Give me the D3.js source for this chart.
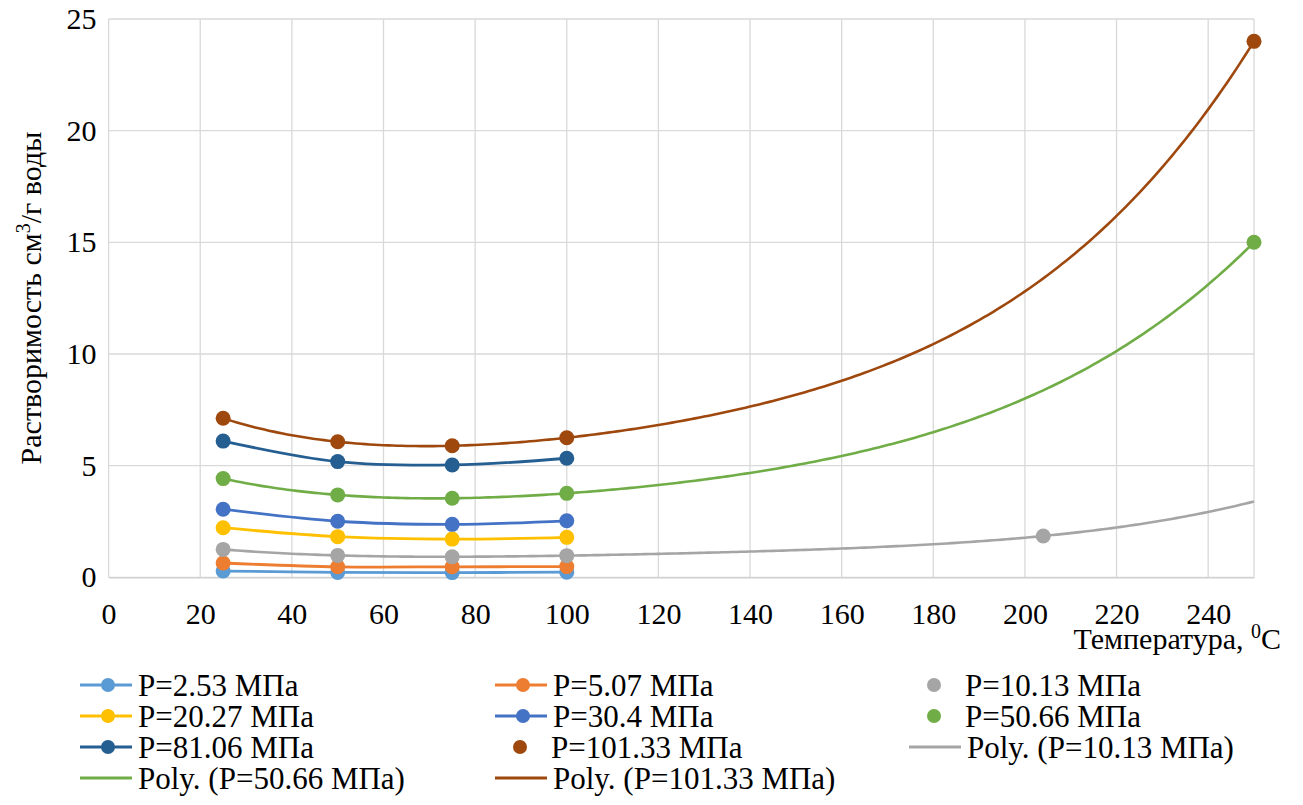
<!DOCTYPE html>
<html>
<head>
<meta charset="utf-8">
<script src="https://cdn.jsdelivr.net/npm/d3@7"></script>
<style>
  body { margin: 0; background: #fff; }
  svg text { font-family: "Liberation Serif", "Times New Roman", serif; fill: #000; }
</style>
</head>
<body>
<svg id="chart" width="1303" height="805"></svg>
<script>
const serif = '"Liberation Serif", "Times New Roman", serif';

// temperatures, 0C
const tempLow = [25, 50, 75, 100];
const temp1013 = [25, 50, 75, 100, 204];
const tempHigh = [25, 50, 75, 100, 250];

// solubility, cm3 per g of water
const p253 = [0.28, 0.22, 0.21, 0.23];
const p507 = [0.64, 0.47, 0.47, 0.48];
const p1013 = [1.25, 0.98, 0.92, 0.97, 1.85];
const p2027 = [2.22, 1.82, 1.71, 1.79];
const p304 = [3.05, 2.51, 2.37, 2.53];
const p5066 = [4.42, 3.69, 3.54, 3.76, 15.0];
const p8106 = [6.1, 5.18, 5.03, 5.33];
const p10133 = [7.12, 6.07, 5.89, 6.25, 24.0];

const xTicks = [0, 20, 40, 60, 80, 100, 120, 140, 160, 180, 200, 220, 240];
const yTicks = [0, 5, 10, 15, 20, 25];

const series = [
    { name: 'P=2.53 МПа', x: tempLow, y: p253, color: '#5B9BD5', line: true },
    { name: 'P=5.07 МПа', x: tempLow, y: p507, color: '#ED7D31', line: true },
    { name: 'P=10.13 МПа', x: temp1013, y: p1013, color: '#A5A5A5', line: false, trend: true },
    { name: 'P=20.27 МПа', x: tempLow, y: p2027, color: '#FFC000', line: true },
    { name: 'P=30.4 МПа', x: tempLow, y: p304, color: '#4472C4', line: true },
    { name: 'P=50.66 МПа', x: tempHigh, y: p5066, color: '#70AD47', line: false, trend: true },
    { name: 'P=81.06 МПа', x: tempLow, y: p8106, color: '#255E91', line: true },
    { name: 'P=101.33 МПа', x: tempHigh, y: p10133, color: '#9E480E', line: false, trend: true }
];

const svg = d3.select('#chart');

const x = d3.scaleLinear().domain([0, 250]).range([108.6, 1254]);
const y = d3.scaleLinear().domain([0, 25]).range([577.3, 19]);

// least squares polynomial, like Excel "Poly." trendline
function polyFit(xs, ys, order) {
    const n = order + 1;
    const A = [];
    for (let i = 0; i < n; i++) {
        A.push(new Array(n + 1).fill(0));
    }
    for (let k = 0; k < xs.length; k++) {
        const t = xs[k] / 100;
        for (let i = 0; i < n; i++) {
            for (let j = 0; j < n; j++) {
                A[i][j] += Math.pow(t, i + j);
            }
            A[i][n] += ys[k] * Math.pow(t, i);
        }
    }
    for (let i = 0; i < n; i++) {
        let p = i;
        for (let r = i + 1; r < n; r++) if (Math.abs(A[r][i]) > Math.abs(A[p][i])) p = r;
        [A[i], A[p]] = [A[p], A[i]];
        for (let r = 0; r < n; r++) {
            if (r === i) continue;
            const f = A[r][i] / A[i][i];
            for (let c = i; c <= n; c++) A[r][c] -= f * A[i][c];
        }
    }
    const coef = A.map((row, i) => row[n] / row[i]);
    return v => coef.reduce((s, c, i) => s + c * Math.pow(v / 100, i), 0);
}

// grid
svg.append('g')
    .selectAll('line')
    .data(xTicks.concat([250]))
    .enter()
    .append('line')
        .attr('x1', d => x(d)).attr('x2', d => x(d))
        .attr('y1', y(25)).attr('y2', y(0))
        .attr('stroke', '#d9d9d9')
        .attr('stroke-width', 1.3);

svg.append('g')
    .selectAll('line')
    .data(yTicks)
    .enter()
    .append('line')
        .attr('x1', x(0)).attr('x2', x(250))
        .attr('y1', d => y(d)).attr('y2', d => y(d))
        .attr('stroke', '#d9d9d9')
        .attr('stroke-width', 1.3);

// axes
const xAxis = svg.append('g')
    .attr('transform', 'translate(0,' + y(0) + ')')
    .call(d3.axisBottom(x).tickValues(xTicks).tickSize(0).tickPadding(25));
xAxis.attr('font-family', null);
xAxis.select('.domain').attr('stroke', '#d0d0d0').attr('stroke-width', 1.5);
xAxis.selectAll('text')
    .style('font-family', serif)
    .style('font-size', '30px')
    .attr('fill', '#000');

const yAxis = svg.append('g')
    .attr('transform', 'translate(' + x(0) + ',0)')
    .call(d3.axisLeft(y).tickValues(yTicks).tickSize(0).tickPadding(12));
yAxis.attr('font-family', null);
yAxis.select('.domain').remove();
yAxis.selectAll('text')
    .style('font-family', serif)
    .style('font-size', '30px')
    .attr('fill', '#000');

// axis titles
const xt = svg.append('text')
    .attr('x', 1281)
    .attr('y', 649)
    .attr('text-anchor', 'end')
    .style('font-size', '30px');
xt.append('tspan').text('Температура, ');
xt.append('tspan').text('0').attr('dy', -11).style('font-size', '20px');
xt.append('tspan').text('C').attr('dy', 11);

const yt = svg.append('text')
    .attr('transform', 'translate(41,298) rotate(-90)')
    .attr('text-anchor', 'middle')
    .style('font-size', '30px');
yt.append('tspan').text('Растворимость см');
yt.append('tspan').text('3').attr('dy', -11).style('font-size', '20px');
yt.append('tspan').text('/г воды').attr('dy', 11);

const smooth = d3.line()
    .x(d => x(d[0]))
    .y(d => y(d[1]))
    .curve(d3.curveCatmullRom.alpha(0));

const plot = svg.append('g');

// trendlines
series.forEach(s => {
    if (s.trend) {
        const f = polyFit(s.x, s.y, 4);
        const pts = d3.range(25, 250.01, 1).map(v => [v, f(v)]);
        plot.append('path')
            .attr('d', d3.line().x(d => x(d[0])).y(d => y(d[1]))(pts))
            .attr('fill', 'none')
            .attr('stroke', s.color)
            .attr('stroke-width', 2.6);
    }
});

series.forEach(s => {
    const pts = s.x.map((v, i) => [v, s.y[i]]);
    if (s.line) {
        plot.append('path')
            .attr('d', smooth(pts))
            .attr('fill', 'none')
            .attr('stroke', s.color)
            .attr('stroke-width', 2.8);
    }
    plot.selectAll(null)
        .data(pts)
        .enter()
        .append('circle')
            .attr('cx', d => x(d[0]))
            .attr('cy', d => y(d[1]))
            .attr('r', 7.5)
            .attr('fill', s.color);
});

// legend
const legendItems = series.map(s => ({ name: s.name, color: s.color, line: s.line, marker: true }))
    .concat(series.filter(s => s.trend).map(s => ({ name: 'Poly. (' + s.name + ')', color: s.color, line: true, marker: false })));

const colX = [80, 495, 909];
const rowY = [685, 716, 747, 778];

const legend = svg.append('g');
legendItems.forEach((d, i) => {
    const cx = colX[i % 3];
    const cy = rowY[Math.floor(i / 3)];
    const g = legend.append('g').attr('transform', 'translate(' + cx + ',' + cy + ')');
    if (d.line) {
        g.append('line')
            .attr('x1', 0).attr('x2', 52)
            .attr('y1', 0).attr('y2', 0)
            .attr('stroke', d.color)
            .attr('stroke-width', 2.8);
    }
    if (d.marker) {
        g.append('circle')
            .attr('cx', d.line ? 28 : 25)
            .attr('cy', 0)
            .attr('r', 7)
            .attr('fill', d.color);
    }
    g.append('text')
        .attr('x', d.line ? 58 : 56)
        .attr('y', 11)
        .style('font-size', '31px')
        .text(d.name);
});
</script>
</body>
</html>
